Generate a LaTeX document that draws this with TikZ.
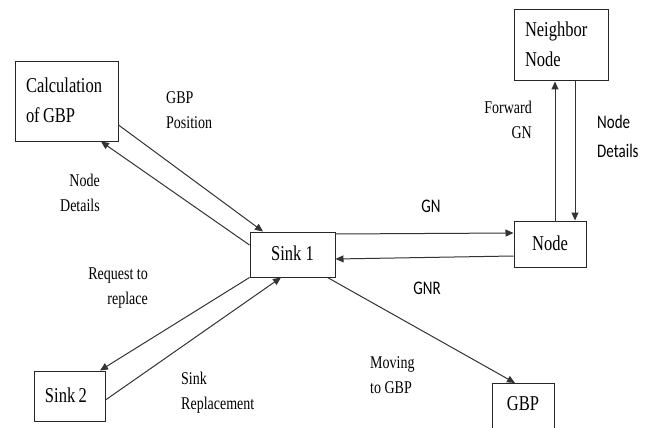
\documentclass[tikz,border=0pt]{standalone}
\usepackage{fontspec}
\setmainfont{Liberation Serif}
\newfontfamily\carlitofont{Carlito}
\usepackage{graphicx}
\usetikzlibrary{arrows.meta}
\newcommand{\myvs}[1]{\scalebox{1}[1.28]{#1}}
\newcommand{\boxtxt}[1]{\myvs{\fontsize{16.5}{23.5}\selectfont\begin{tabular}{@{}l@{}}#1\end{tabular}}}
\newcommand{\smltxt}[2]{\myvs{\fontsize{14}{19.5}\selectfont\begin{tabular}{@{}#1@{}}#2\end{tabular}}}
\newcommand{\sanstxt}[2]{\myvs{\carlitofont\fontsize{15}{22.5}\selectfont\begin{tabular}{@{}#1@{}}#2\end{tabular}}}
\begin{document}
\begin{tikzpicture}[x=1pt,y=-1pt,
  blk/.style={draw=black!85, line width=1pt, inner sep=0pt},
  lbl/.style={inner sep=0pt},
  arr/.style={draw=black!80, line width=1pt, -{Triangle[length=8pt,width=7pt]}}]
\useasboundingbox (0,0) rectangle (654,428);
% boxes
\node[blk, minimum width=103pt, minimum height=79pt, text width=81pt, inner xsep=11pt, align=left] (calc) at (66.5,101.5) {\boxtxt{Calculation\\of GBP}};
\node[blk, minimum width=94pt, minimum height=71pt, text width=72pt, inner xsep=11pt, align=left] (nbr) at (561,45.5) {\boxtxt{Neighbor\\Node}};
\node[blk, minimum width=72pt, minimum height=46pt] (node) at (550,244) {\boxtxt{Node}};
\node[blk, minimum width=85pt, minimum height=45pt] (sink1) at (292.5,254.5) {\boxtxt{Sink 1}};
\node[blk, minimum width=71pt, minimum height=50pt, text width=49pt, inner xsep=11pt, align=left] (sink2) at (69.5,396) {\boxtxt{Sink 2}};
\node[blk, minimum width=62pt, anchor=north, text height=27pt, text depth=30pt] (gbp) at (523,383) {\myvs{\fontsize{16.5}{20}\selectfont GBP}};
% labels
\node[lbl, anchor=west] (lgbppos) at (166,111) {\smltxt{l}{GBP\\Position}};
\node[lbl, anchor=east] (lndl) at (100,194) {\smltxt{r}{Node\\Details}};
\node[lbl, anchor=east] (lfwd) at (532,121) {\smltxt{r}{Forward\\GN}};
\node[lbl, anchor=west] (lndr) at (597,137) {\sanstxt{l}{Node\\Details}};
\node[lbl] (lgn) at (431,207) {\sanstxt{c}{GN}};
\node[lbl] (lgnr) at (427,289) {\sanstxt{c}{GNR}};
\node[lbl, anchor=east] (lreq) at (148,287) {\smltxt{r}{Request to\\replace}};
\node[lbl, anchor=west] (lsrep) at (181,392) {\smltxt{l}{Sink\\Replacement}};
\node[lbl, anchor=west] (lmov) at (370,376) {\smltxt{l}{Moving\\to GBP}};
% connectors
\draw[arr] ([yshift=-23.5pt]calc.east) -- ([xshift=-29.5pt]sink1.north);
\draw[arr] ([yshift=9.5pt]sink1.west) -- ([xshift=34.5pt]calc.south);
\draw[arr] (sink1.south west) -- ([xshift=30.5pt]sink2.north);
\draw[arr] ([yshift=-4pt]sink2.east) -- ([xshift=-11.5pt]sink1.south);
\draw[arr] ([yshift=20.5pt]sink1.east) -- ([yshift=11pt]node.west);
\draw[arr] ([yshift=-12pt]node.west) -- ([yshift=-4.5pt]sink1.east);
\draw[arr] ([xshift=-8pt]sink1.south east) -- ([xshift=-8pt]gbp.north);
\draw[arr] ([xshift=5pt]node.north) -- ([xshift=-6pt]nbr.south);
\draw[arr] ([xshift=14pt]nbr.south) -- ([xshift=25pt]node.north);
\end{tikzpicture}
\end{document}
